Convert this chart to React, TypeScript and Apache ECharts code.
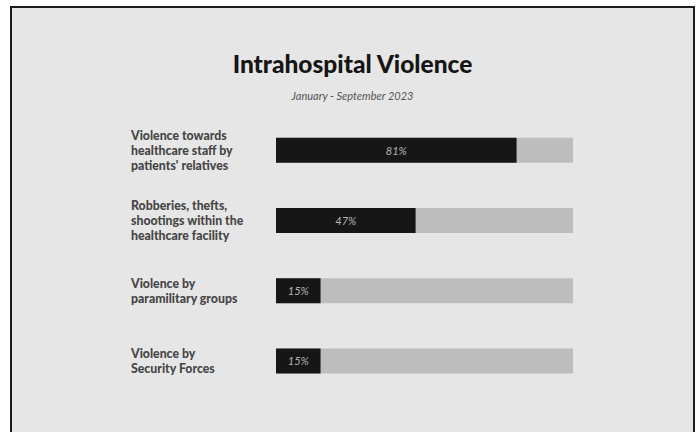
import React, { useEffect, useRef } from "react";
import * as echarts from "echarts";

const categories = [
  "Violence towards\nhealthcare staff by\npatients' relatives",
  "Robberies, thefts,\nshootings within the\nhealthcare facility",
  "Violence by\nparamilitary groups",
  "Violence by\nSecurity Forces",
];
const values = [81, 47, 15, 15];
const titleText = "Intrahospital Violence";
const subtitleText = "January - September 2023";

export default function App() {
  const ref = useRef<HTMLDivElement>(null);
  useEffect(() => {
    if (!ref.current) return;
    const chart = echarts.init(ref.current, null, { renderer: "svg" });
    chart.setOption({
      animation: false,
      backgroundColor: "#e6e6e6",
      title: [
        {
          text: titleText,
          left: "center",
          top: 38,
          textStyle: {
            fontFamily: "Lato",
            fontWeight: 900,
            fontSize: 24.5,
            color: "#151515",
          },
        },
        {
          text: subtitleText,
          left: "center",
          top: 77,
          textStyle: {
            fontFamily: "Lato",
            fontStyle: "italic",
            fontWeight: "normal",
            fontSize: 11,
            color: "#555555",
          },
        },
      ],
      grid: { left: 264, top: 107, width: 297, height: 281 },
      xAxis: {
        type: "value",
        min: 0,
        max: 100,
        show: false,
      },
      yAxis: {
        type: "category",
        inverse: true,
        data: categories,
        axisLine: { show: false },
        axisTick: { show: false },
        axisLabel: {
          align: "left",
          margin: 145,
          fontFamily: "Lato",
          fontWeight: 900,
          fontSize: 12.3,
          lineHeight: 15,
          color: "#464646",
        },
      },
      series: [
        {
          type: "bar",
          data: values,
          barWidth: 25,
          itemStyle: { color: "#161616" },
          showBackground: true,
          backgroundStyle: { color: "#bdbdbd" },
          label: {
            show: true,
            position: "inside",
            formatter: "{c}%",
            fontFamily: "Lato",
            fontStyle: "italic",
            fontSize: 11,
            color: "#b5b5b5",
          },
        },
      ],
    });
    return () => chart.dispose();
  }, []);
  return (
    <div
      style={{
        position: "absolute",
        left: 10,
        top: 6,
        width: 685,
        height: 440,
        border: "2px solid #1c1c1c",
        boxSizing: "border-box",
        background: "#e6e6e6",
        overflow: "hidden",
      }}
    >
      <div ref={ref} style={{ width: 681, height: 436 }} />
    </div>
  );
}
